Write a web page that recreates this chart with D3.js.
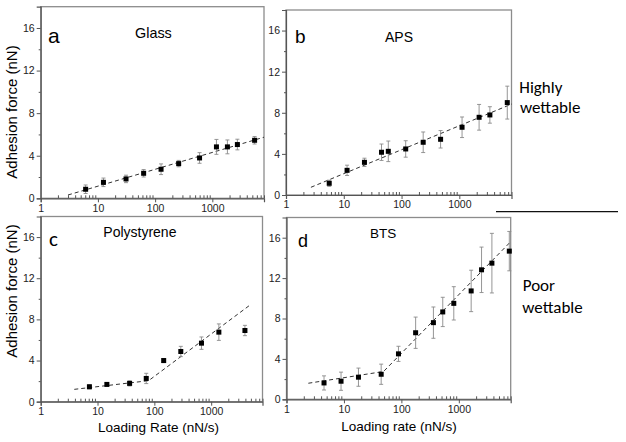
<!DOCTYPE html>
<html><head><meta charset="utf-8">
<script src="https://cdn.jsdelivr.net/npm/d3@7"></script>
<style>
html,body{margin:0;padding:0;background:#fff;}
svg{display:block;}
.tick text{font-family:"Liberation Sans",Arial,sans-serif;}
</style></head>
<body>
<svg id="chart" width="626" height="442"></svg>
<script>
// ---------- data ----------
const xTickValues = [1, 10, 100, 1000];
const xTickLabels = ["1", "10", "100", "1000"];
const yTickValues = [0, 4, 8, 12, 16];
const yTickLabels = ["0", "4", "8", "12", "16"];
const yMinorValues = [2, 6, 10, 14];

// Glass (a)
const glassRate  = [6.1, 12.5, 31, 63, 127, 258, 598, 1180, 1835, 2740, 5480];
const glassForce = [0.85, 1.5, 1.82, 2.35, 2.73, 3.26, 3.79, 4.83, 4.83, 5.05, 5.45];
const glassErr   = [0.4, 0.4, 0.35, 0.35, 0.5, 0.3, 0.5, 0.7, 0.65, 0.5, 0.35];
const glassFitRate  = [3.0, 8000];
const glassFitForce = [0.31, 5.74];

// APS (b)
const apsRate  = [5.6, 11.4, 22.8, 45, 59, 118, 237, 474, 1115, 2200, 3380, 6760];
const apsForce = [1.14, 2.4, 3.18, 4.16, 4.25, 4.48, 5.13, 5.42, 6.59, 7.56, 7.79, 8.99];
const apsErr   = [0.3, 0.5, 0.4, 0.8, 1.0, 0.8, 1.0, 0.85, 1.0, 1.25, 0.8, 1.6];
const apsFitRate  = [2.7, 8150];
const apsFitForce = [0.75, 8.86];

// Polystyrene (c)
const psRate  = [7.2, 14.6, 36.7, 72, 146, 292, 675, 1365, 3925];
const psForce = [1.45, 1.68, 1.78, 2.26, 4.0, 4.88, 5.69, 6.76, 6.92];
const psErr   = [0.2, 0.15, 0.25, 0.5, 0.2, 0.5, 0.6, 0.8, 0.5];
const psFitRate  = [3.9, 79, 4950];
const psFitForce = [1.2, 2.04, 9.44];

// BTS (d)
const btsRate  = [4.5, 8.9, 17.9, 44.5, 89, 177, 361, 525, 817, 1640, 2485, 3765, 7565];
const btsForce = [1.62, 1.79, 2.19, 2.48, 4.5, 6.59, 7.59, 8.65, 9.5, 10.73, 12.82, 13.48, 14.67];
const btsErr   = [0.7, 0.9, 0.9, 1.0, 0.75, 1.55, 1.55, 1.45, 1.65, 2.05, 2.25, 2.95, 1.95];
const btsFitRate  = [2.4, 48.9, 7980];
const btsFitForce = [1.59, 2.75, 15.6];

// ---------- layout ----------
const svg = d3.select("#chart");
const FONT = '"Liberation Sans", Arial, sans-serif';
const CAL = 'Carlito, Lato, "Open Sans", sans-serif';

const panels = [
  {box:{l:40.7,t:6.7,r:264,b:198.3}, rate:glassRate, force:glassForce, err:glassErr, fr:glassFitRate, ff:glassFitForce,
   letter:"a", lx:48, ly:43, lsize:21, lfont:FONT, title:"Glass", tx:135, ty:37.7, tsize:14.4},
  {box:{l:286,t:10,r:511.5,b:195}, rate:apsRate, force:apsForce, err:apsErr, fr:apsFitRate, ff:apsFitForce,
   letter:"b", lx:295, ly:43.3, lsize:19, lfont:FONT, title:"APS", tx:385, ty:41.7, tsize:14},
  {box:{l:40.7,t:216.5,r:262.5,b:401.7}, rate:psRate, force:psForce, err:psErr, fr:psFitRate, ff:psFitForce,
   letter:"c", lx:49, ly:245.7, lsize:21, lfont:CAL, title:"Polystyrene", tx:103.3, ty:236.7, tsize:14},
  {box:{l:286.5,t:217.5,r:510.7,b:399.3}, rate:btsRate, force:btsForce, err:btsErr, fr:btsFitRate, ff:btsFitForce,
   letter:"d", lx:298, ly:247.3, lsize:18, lfont:FONT, title:"BTS", tx:370, ty:238.3, tsize:13.5}
];

const xMinor = [];
[1,10,100,1000].forEach(dec => { for (let k=2;k<=9;k++){ if (dec*k<=8000) xMinor.push(dec*k);} });

panels.forEach(p => {
  const B = p.box;
  const x = d3.scaleLog().domain([1, 8000]).range([B.l, B.r]);
  const y = d3.scaleLinear().domain([0, 18]).range([B.b, B.t]);
  const g = svg.append("g");

  // frame
  g.append("rect").attr("x", B.l).attr("y", B.t).attr("width", B.r - B.l).attr("height", B.b - B.t)
    .attr("fill", "none").attr("stroke", "#8c8c8c").attr("stroke-width", 1.3);

  // x axis
  const xa = g.append("g").attr("transform", `translate(0,${B.b})`)
    .call(d3.axisBottom(x).tickValues(xTickValues).tickFormat((d,i)=>xTickLabels[i]).tickSize(4).tickPadding(2));
  xa.select(".domain").attr("stroke", "#555").attr("stroke-width", 1.2);
  xa.selectAll(".tick line").attr("stroke", "#555");
  xa.selectAll(".tick text").attr("font-size", 10.5).attr("fill", "#222").attr("font-family", FONT);
  const xm = g.append("g").attr("transform", `translate(0,${B.b})`)
    .call(d3.axisBottom(x).tickValues(xMinor).tickFormat("").tickSize(-3));
  xm.select(".domain").remove();
  xm.selectAll(".tick line").attr("stroke", "#555");

  // y axis
  const ya = g.append("g").attr("transform", `translate(${B.l},0)`)
    .call(d3.axisLeft(y).tickValues(yTickValues).tickFormat((d,i)=>yTickLabels[i]).tickSize(4).tickPadding(2));
  ya.select(".domain").attr("stroke", "#555").attr("stroke-width", 1.2);
  ya.selectAll(".tick line").attr("stroke", "#555");
  ya.selectAll(".tick text").attr("font-size", 10.5).attr("fill", "#222").attr("font-family", FONT);
  const ym = g.append("g").attr("transform", `translate(${B.l},0)`)
    .call(d3.axisLeft(y).tickValues(yMinorValues).tickFormat("").tickSize(2));
  ym.select(".domain").remove();
  ym.selectAll(".tick line").attr("stroke", "#555");

  // fit line
  const line = d3.line().x(d => x(d[0])).y(d => y(d[1]));
  g.append("path").datum(p.fr.map((r,i)=>[r, p.ff[i]]))
    .attr("d", line).attr("fill", "none").attr("stroke", "#333").attr("stroke-width", 1)
    .attr("stroke-dasharray", "4,3");

  // error bars
  const pts = p.rate.map((r,i)=>({r, f:p.force[i], e:p.err[i]}));
  const eb = g.append("g").attr("stroke", "#8a8a8a").attr("stroke-width", 0.9);
  eb.selectAll("line.v").data(pts).join("line").attr("class","v")
    .attr("x1", d=>x(d.r)).attr("x2", d=>x(d.r)).attr("y1", d=>y(d.f-d.e)).attr("y2", d=>y(d.f+d.e));
  eb.selectAll("line.t").data(pts).join("line").attr("class","t")
    .attr("x1", d=>x(d.r)-2).attr("x2", d=>x(d.r)+2).attr("y1", d=>y(d.f+d.e)).attr("y2", d=>y(d.f+d.e));
  eb.selectAll("line.b").data(pts).join("line").attr("class","b")
    .attr("x1", d=>x(d.r)-2).attr("x2", d=>x(d.r)+2).attr("y1", d=>y(d.f-d.e)).attr("y2", d=>y(d.f-d.e));

  // markers
  g.selectAll("rect.m").data(pts).join("rect").attr("class","m")
    .attr("x", d=>x(d.r)-2.5).attr("y", d=>y(d.f)-2.5).attr("width", 5).attr("height", 5).attr("fill", "#000");

  // letters & titles
  g.append("text").attr("x", p.lx).attr("y", p.ly).text(p.letter)
    .attr("font-family", p.lfont).attr("font-size", p.lsize).attr("fill", "#000");
  g.append("text").attr("x", p.tx).attr("y", p.ty).text(p.title)
    .attr("font-family", FONT).attr("font-size", p.tsize).attr("fill", "#000");
});

// axis titles
svg.append("text").attr("transform", "translate(16.5,112) rotate(-90)").attr("text-anchor","middle")
  .attr("font-family", FONT).attr("font-size", 15).text("Adhesion force (nN)");
svg.append("text").attr("transform", "translate(16.5,291) rotate(-90)").attr("text-anchor","middle")
  .attr("font-family", FONT).attr("font-size", 15).text("Adhesion force (nN)");
svg.append("text").attr("x", 158.5).attr("y", 431.7).attr("text-anchor","middle")
  .attr("font-family", FONT).attr("font-size", 13.5).text("Loading Rate (nN/s)");
svg.append("text").attr("x", 399).attr("y", 430.7).attr("text-anchor","middle")
  .attr("font-family", FONT).attr("font-size", 13.5).text("Loading rate (nN/s)");

// side annotations
svg.append("text").attr("x", 519.3).attr("y", 93).attr("font-family", CAL).attr("font-size", 17).text("Highly");
svg.append("text").attr("x", 520).attr("y", 113.3).attr("font-family", CAL).attr("font-size", 17).text("wettable");
svg.append("text").attr("x", 522.7).attr("y", 290.7).attr("font-family", CAL).attr("font-size", 17).text("Poor");
svg.append("text").attr("x", 522.3).attr("y", 313.3).attr("font-family", CAL).attr("font-size", 17).text("wettable");
svg.append("line").attr("x1", 496).attr("x2", 618).attr("y1", 211.7).attr("y2", 211.7)
  .attr("stroke", "#111").attr("stroke-width", 1.3);
</script>
</body></html>
